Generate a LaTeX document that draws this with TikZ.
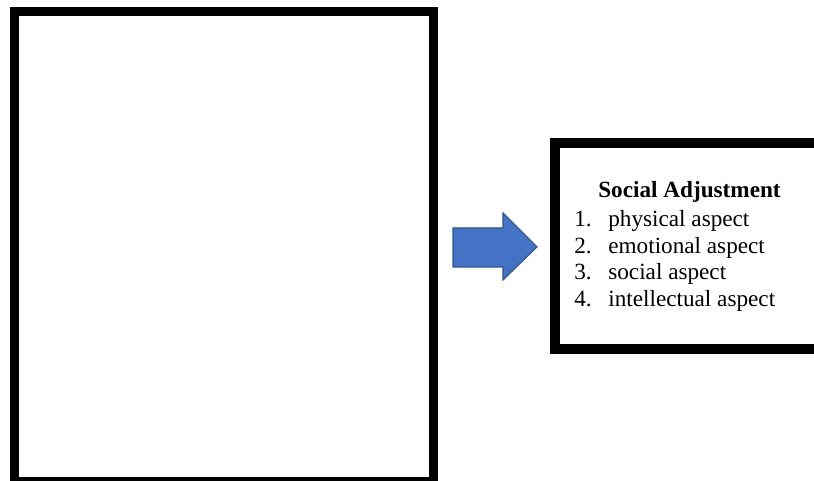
\documentclass[tikz,border=0pt]{standalone}
\usepackage{fontspec}
\setmainfont{Liberation Serif}
\definecolor{arrowblue}{HTML}{4472C4}
\definecolor{arrowedge}{HTML}{2F528F}
\tikzset{
  frame/.style={draw=black, rectangle, inner sep=0pt},
  listtext/.style={anchor=base west, inner sep=0pt, font=\fontsize{13.2}{15}\selectfont}
}
\begin{document}
\begin{tikzpicture}
  \useasboundingbox (0,0) rectangle (16.28,9.62);
  % left (empty) box
  \node[frame, line width=0.18cm, minimum width=8.37cm, minimum height=9.40cm] (empty) at (4.475,4.69) {};

  % block arrow
  \filldraw[fill=arrowblue, draw=arrowedge, line width=0.6pt]
    (9.06,4.28) -- (9.06,5.06) -- (10.06,5.06) -- (10.06,5.36) -- (10.74,4.68)
    -- (10.06,4.02) -- (10.06,4.28) -- cycle;

  % right box (runs off the page)
  \node[frame, line width=0.19cm, minimum width=5.5cm, minimum height=4.12cm] (adjust) at (13.85,4.70) {};
  \node[anchor=base, inner sep=0pt, font=\fontsize{13.2}{15}\selectfont\bfseries] (title) at (13.79,5.66) {Social Adjustment};
  \foreach \i/\txt in {1/physical aspect, 2/emotional aspect, 3/social aspect, 4/intellectual aspect} {
    \node[listtext] (num\i) at (11.48,5.08-0.53*\i+0.53) {\i.};
    \node[listtext] (item\i) at (12.16,5.08-0.53*\i+0.53) {\txt};
  }
\end{tikzpicture}
\end{document}
